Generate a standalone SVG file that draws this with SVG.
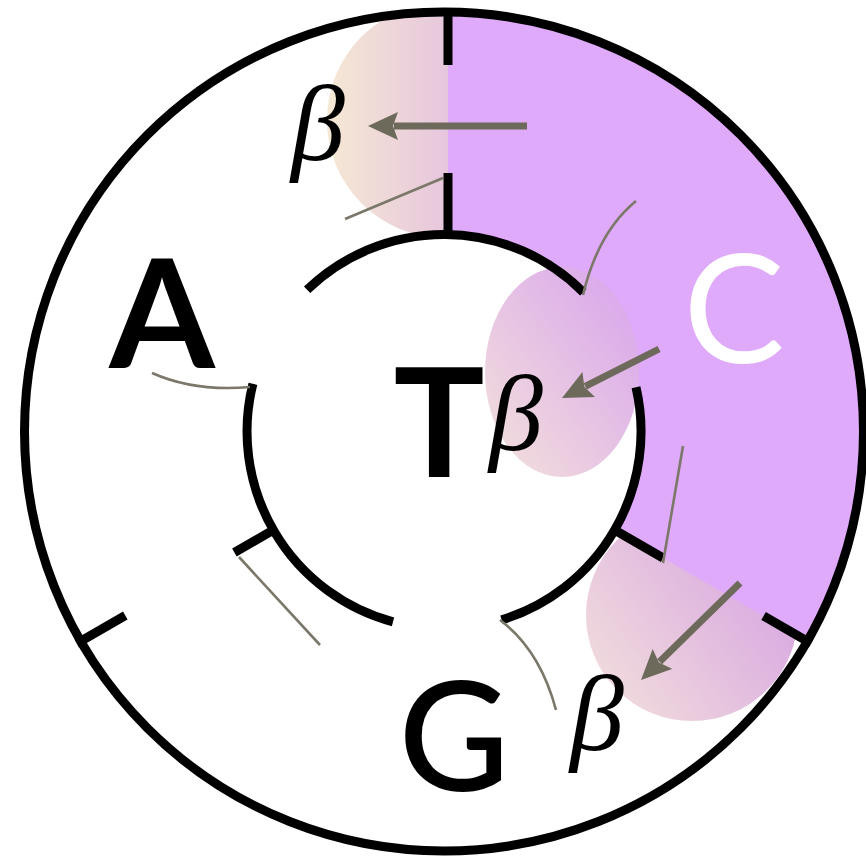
<svg xmlns="http://www.w3.org/2000/svg" width="866" height="857" viewBox="0 0 866 857">
<defs>
<style>
.ring{fill:none;stroke:#000;stroke-width:9}
.tick{stroke:#000;stroke-width:9;fill:none}
.lead{fill:none;stroke:#7b786a;stroke-width:2.6}
.arrow{stroke:#6d6a5b;stroke-width:7;fill:none}
.big{font-family:Lato,"Noto Sans","Liberation Sans",sans-serif;font-size:152px;text-anchor:middle}
.heavy{font-weight:bold}
.beta{font-family:"Liberation Serif","DejaVu Serif",serif;font-style:italic;font-size:108px;text-anchor:middle;fill:#000}
</style>
<marker id="ah" viewBox="0 0 30 28" markerWidth="30" markerHeight="28" markerUnits="userSpaceOnUse" refX="4" refY="14" orient="auto">
<path d="M0,0 L30,14 L0,28 L5,14 Z" fill="#6d6a5b"/>
</marker>
<linearGradient id="g1" x1="0" y1="0" x2="1" y2="0">
<stop offset="0" stop-color="#f5e8d4"/>
<stop offset="1" stop-color="#d9a6e6"/>
</linearGradient>
<linearGradient id="g2" x1="0.1" y1="0.9" x2="0.9" y2="0.1">
<stop offset="0" stop-color="#f1dcdc"/>
<stop offset="1" stop-color="#daa8ec"/>
</linearGradient>
<linearGradient id="g3" x1="0.05" y1="0.85" x2="0.95" y2="0.2">
<stop offset="0" stop-color="#f1dcdc"/>
<stop offset="1" stop-color="#d6a2e2"/>
</linearGradient>
<clipPath id="disk"><circle cx="444" cy="431.5" r="417"/></clipPath>
</defs>
<rect width="866" height="857" fill="#fff"/>
<g id="blobs-under" clip-path="url(#disk)">
<circle cx="445" cy="120" r="118" fill="url(#g1)"/>
<circle cx="692" cy="615" r="106" fill="url(#g3)"/>
</g>
<g id="sector-C">
<path d="M448,12 A419.5,419.5 0 0,1 807.3,641.3 L614.6,530 A197,197 0 0,0 448,234.5 Z" fill="#e0aafa"/>
</g>
<g id="blob-mid">
<ellipse cx="562" cy="372" rx="77" ry="105" fill="url(#g2)"/>
</g>
<g id="rings">
<circle class="ring" cx="444" cy="431.5" r="419.5"/>
<path class="ring" d="M307.1,289.8 A197,197 0 0,1 583.3,292.2"/>
<path class="ring" d="M636,387.2 A197,197 0 0,1 501.6,619.9"/>
<path class="ring" d="M393,621.8 A197,197 0 0,1 252.9,383.8"/>
</g>
<g id="ticks">
<line class="tick" x1="448" y1="234" x2="448" y2="173"/>
<line class="tick" x1="448" y1="8" x2="448" y2="65"/>
<line class="tick" x1="612.9" y1="529" x2="663.1" y2="558"/>
<line class="tick" x1="763.6" y1="616" x2="811.2" y2="643.5"/>
<line class="tick" x1="275.1" y1="529" x2="234.4" y2="552.5"/>
<line class="tick" x1="125.3" y1="615.5" x2="76.8" y2="643.5"/>
</g>
<g id="connectors">
<line class="lead" x1="345" y1="219" x2="443" y2="178"/>
<path class="lead" d="M583,295 Q598,232 636,201"/>
<line class="lead" x1="683" y1="446" x2="663" y2="563"/>
<path class="lead" d="M152,373 Q195,392 250,387"/>
<line class="lead" x1="239" y1="557" x2="320" y2="645"/>
<path class="lead" d="M500,620 Q540,650 556,710"/>
<line class="arrow" x1="527" y1="126" x2="394" y2="126" marker-end="url(#ah)"/>
<line class="arrow" x1="659" y1="349" x2="585.2" y2="386.3" marker-end="url(#ah)"/>
<line class="arrow" x1="740" y1="583" x2="659.6" y2="661.8" marker-end="url(#ah)"/>
</g>
<g id="node-A"><text class="big heavy" x="162" y="368" fill="#000">A</text></g>
<g id="node-T"><text class="big heavy" x="439" y="477" fill="#000">T</text></g>
<g id="node-C"><text class="big" x="734" y="363" fill="#fff">C</text></g>
<g id="node-G"><text class="big" x="454" y="791" fill="#000" font-weight="500">G</text></g>
<g id="beta-top"><text class="beta" x="318" y="160">β</text></g>
<g id="beta-mid"><text class="beta" x="516" y="450">β</text></g>
<g id="beta-low"><text class="beta" x="597" y="750">β</text></g>
</svg>
